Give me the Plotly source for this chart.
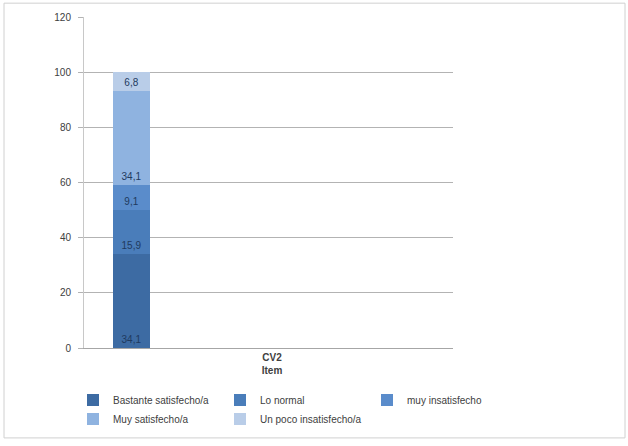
import plotly.graph_objects as go

# Stacked satisfaction shares (%) for item CV2
series_names = [
    "Bastante satisfecho/a",
    "Lo normal",
    "muy insatisfecho",
    "Muy satisfecho/a",
    "Un poco insatisfecho/a",
]
series_values = [34.1, 15.9, 9.1, 34.1, 6.8]
series_colors = ["#3D6BA3", "#4A7DBA", "#5A8CCB", "#8FB3E0", "#B9CDE8"]

category_label = "<b>CV2</b><br><b>Item</b>"
y_ticks = [0, 20, 40, 60, 80, 100, 120]

W, H = 628, 446
L, R, T, B = 84, 175, 17, 94
pw, ph = W - L - R, H - T - B

bar_center = (131.5 - L) / pw
bar_width = 37 / pw
label_pos = (272 - L) / pw

fig = go.Figure()
for name, val, col in zip(series_names, series_values, series_colors):
    fig.add_trace(go.Bar(
        x=[bar_center], y=[val], name=name, width=bar_width,
        marker=dict(color=col, line=dict(width=0)),
        text=[f"{val:.1f}".replace(".", ",")],
        textposition="inside", insidetextanchor="start",
        textfont=dict(family="Liberation Sans", size=10, color="#1F3A60"),
        textangle=0,
    ))

# outer chart frame
fig.add_shape(type="rect", xref="paper", yref="paper",
              x0=(4 - L) / pw, x1=(625 - L) / pw,
              y0=-(443 - T - ph) / ph, y1=(T + ph - 3) / ph,
              line=dict(color="#D0D0D0", width=1), layer="below")

fig.update_layout(
    width=W, height=H,
    margin=dict(l=L, r=R, t=T, b=B),
    barmode="stack",
    paper_bgcolor="white", plot_bgcolor="white",
    font=dict(family="Liberation Sans", size=10, color="#404040"),
    xaxis=dict(range=[0, 1], tickvals=[label_pos], ticktext=[category_label],
               showgrid=False, zeroline=False, showline=True,
               linecolor="#A6A6A6", ticks="", fixedrange=True,
               tickfont=dict(size=10, color="#404040")),
    yaxis=dict(range=[0, 120], tickvals=y_ticks, showgrid=True,
               gridcolor="#B3B3B3", gridwidth=1, zeroline=False,
               showline=True, linecolor="#C8C8C8", ticks="outside",
               ticklen=5, tickcolor="#B3B3B3", ticklabelstandoff=5,
               tickfont=dict(size=10, color="#404040")),
    legend=dict(orientation="h", x=(73 - L) / pw, xanchor="left",
                y=-(400 - T - ph - 10) / ph, yanchor="top",
                entrywidth=102, entrywidthmode="pixels",
                traceorder="normal", tracegroupgap=4,
                font=dict(size=10, color="#404040")),
    bargap=0,
)

fig.write_html("out.html")
